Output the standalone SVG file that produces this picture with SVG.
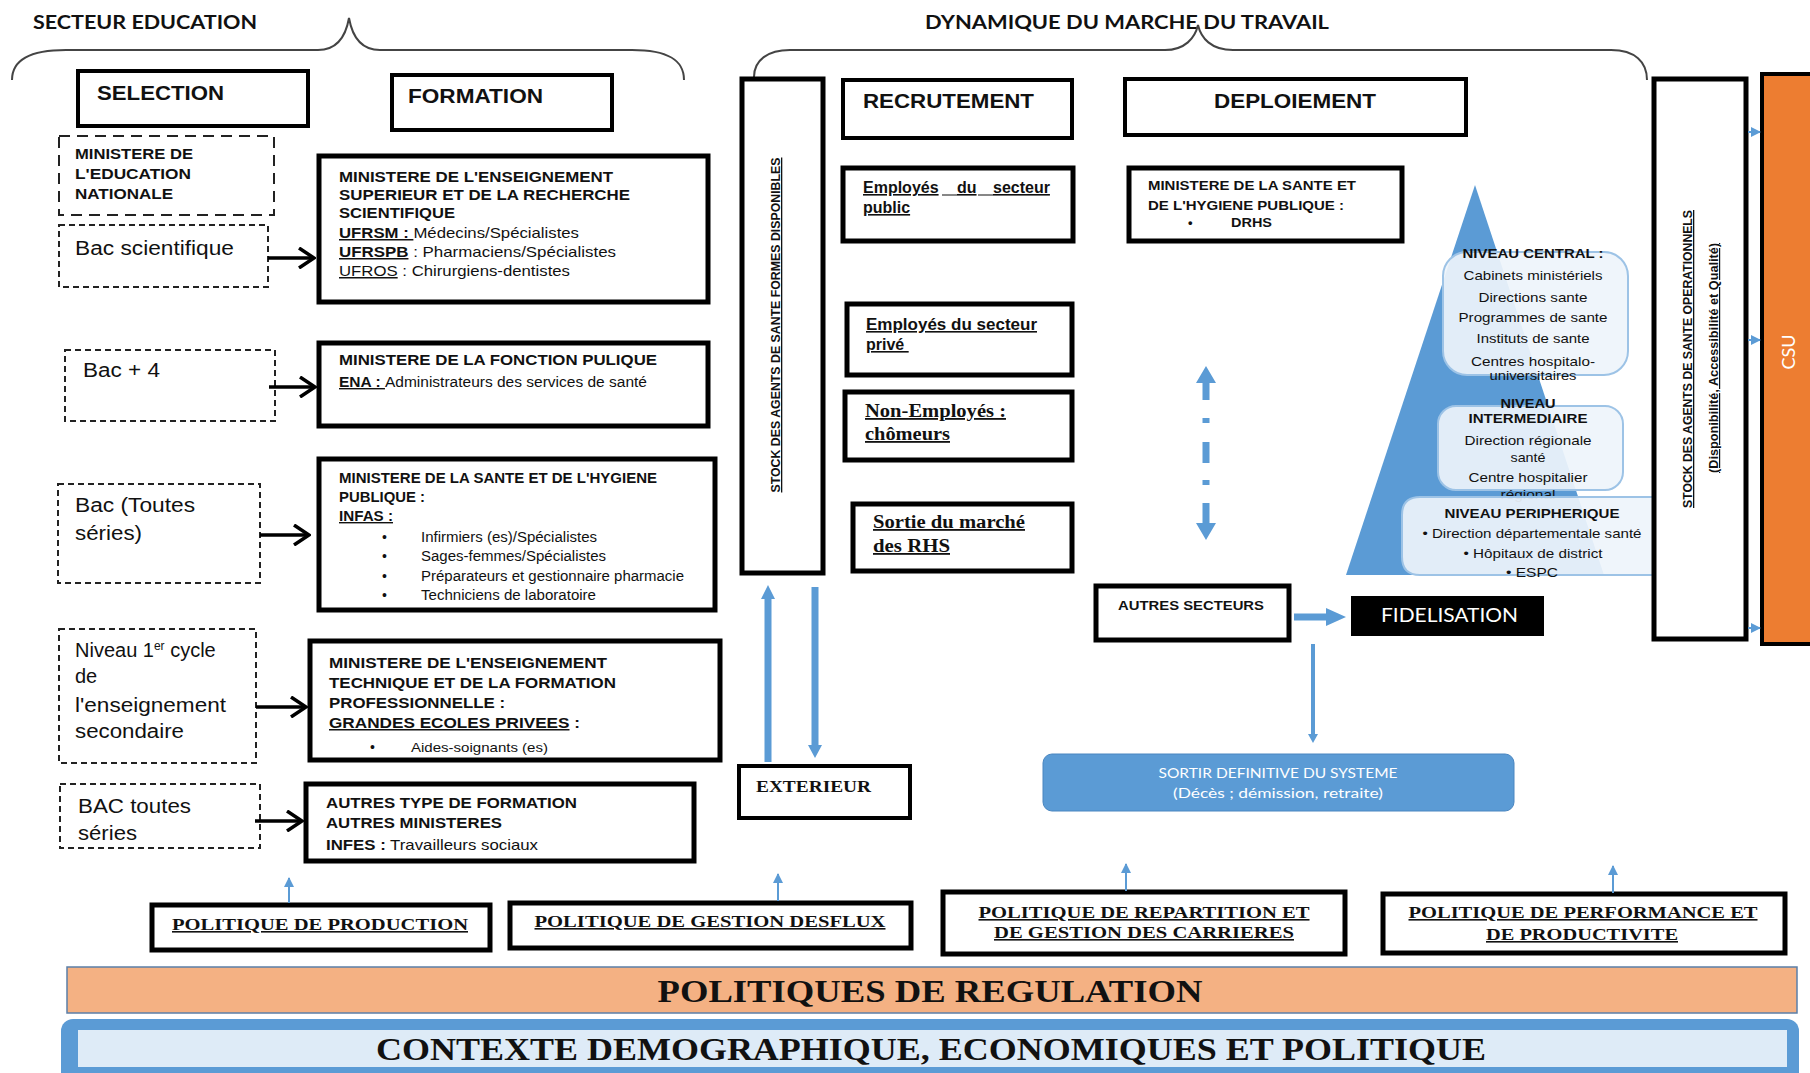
<svg xmlns="http://www.w3.org/2000/svg" width="1810" height="1073" viewBox="0 0 1810 1073">
<style>
text{font-family:"Liberation Sans",Arial,sans-serif;fill:#111}
.b{font-weight:bold}
.s{font-family:"Liberation Serif","Times New Roman",serif;font-weight:bold}
.u{text-decoration:underline}
.c{font-family:Lato,"Liberation Sans",sans-serif}
.m{text-anchor:middle}
.box{fill:#fff;stroke:#000;stroke-width:5}
.hbox{fill:#fff;stroke:#000;stroke-width:4}
.dl{fill:#fff;stroke:#222;stroke-width:2;stroke-dasharray:11 7}
.ds{fill:#fff;stroke:#222;stroke-width:2;stroke-dasharray:6 4}
.brace{fill:none;stroke:#444;stroke-width:2}
.bl{fill:#5B9BD5}
.lvl{fill:#EEF4FB;fill-opacity:0.92;stroke:#9DC3E6;stroke-width:2}
.bk{fill:none;stroke:#000;stroke-width:3.5}
.thin{stroke:#5B9BD5;stroke-width:2;fill:none}
</style>
<defs>
<marker id="chev" markerUnits="userSpaceOnUse" viewBox="0 0 20 22" refX="18" refY="11" markerWidth="20" markerHeight="22" orient="auto">
<path d="M3,1 L18,11 L3,21" fill="none" stroke="#000" stroke-width="3.5"/>
</marker>
<marker id="btri" markerUnits="userSpaceOnUse" viewBox="0 0 10 10" refX="9" refY="5" markerWidth="10" markerHeight="10" orient="auto">
<path d="M0,0 L10,5 L0,10 Z" fill="#5B9BD5"/>
</marker>
</defs>

<!-- headers -->
<g id="headers">
<text x="33" y="29" class="b c" font-size="18" textLength="224" lengthAdjust="spacingAndGlyphs">SECTEUR EDUCATION</text>
<path class="brace" d="M12,80 C12,60 30,50 66,50 L318,50 C338,50 346,35 349,18 C352,35 360,50 380,50 L632,50 C668,50 684,60 684,80"/>
<text x="925" y="29" class="b c" font-size="18" textLength="404" lengthAdjust="spacingAndGlyphs">DYNAMIQUE DU MARCHE DU TRAVAIL</text>
<path class="brace" d="M754,77 C754,60 768,50 790,50 L1165,50 C1185,50 1195,38 1198,25 C1201,38 1211,50 1233,50 L1611,50 C1635,50 1647,62 1647,80"/>
</g>

<g id="selection">
<rect class="hbox" x="78" y="71" width="230" height="55"/>
<text x="97" y="100" class="b" font-size="21" textLength="127" lengthAdjust="spacingAndGlyphs">SELECTION</text>
</g>
<g id="formation">
<rect class="hbox" x="392" y="75" width="220" height="55"/>
<text x="408" y="103" class="b" font-size="21" textLength="135" lengthAdjust="spacingAndGlyphs">FORMATION</text>
</g>

<g id="men">
<rect class="dl" x="59" y="136" width="215" height="79"/>
<text x="75" y="159" class="b" font-size="14" textLength="118" lengthAdjust="spacingAndGlyphs">MINISTERE DE</text>
<text x="75" y="179" class="b" font-size="14" textLength="116" lengthAdjust="spacingAndGlyphs">L'EDUCATION</text>
<text x="75" y="199" class="b" font-size="14" textLength="98" lengthAdjust="spacingAndGlyphs">NATIONALE</text>
</g>
<g id="bac-sci">
<rect class="ds" x="59" y="225" width="209" height="62"/>
<text x="75" y="255" font-size="20" textLength="159" lengthAdjust="spacingAndGlyphs">Bac scientifique</text>
</g>
<g id="bac4">
<rect class="ds" x="65" y="350" width="210" height="71"/>
<text x="83" y="377" font-size="20" textLength="77" lengthAdjust="spacingAndGlyphs">Bac + 4</text>
</g>
<g id="bac-toutes">
<rect class="ds" x="58" y="484" width="202" height="99"/>
<text x="75" y="512" font-size="20" textLength="120" lengthAdjust="spacingAndGlyphs">Bac (Toutes</text>
<text x="75" y="540" font-size="20" textLength="67" lengthAdjust="spacingAndGlyphs">séries)</text>
</g>
<g id="niveau">
<rect class="ds" x="59" y="629" width="197" height="134"/>
<text x="75" y="657" font-size="20">Niveau 1<tspan font-size="12" dy="-7">er</tspan><tspan dy="7"> cycle</tspan></text>
<text x="75" y="683" font-size="20">de</text>
<text x="75" y="712" font-size="20" textLength="151" lengthAdjust="spacingAndGlyphs">l'enseignement</text>
<text x="75" y="738" font-size="20" textLength="109" lengthAdjust="spacingAndGlyphs">secondaire</text>
</g>
<g id="bac-series">
<rect class="ds" x="60" y="784" width="200" height="64"/>
<text x="78" y="813" font-size="20" textLength="113" lengthAdjust="spacingAndGlyphs">BAC toutes</text>
<text x="78" y="840" font-size="20" textLength="59" lengthAdjust="spacingAndGlyphs">séries</text>
</g>

<g id="mesrs">
<rect class="box" x="319" y="156" width="389" height="146"/>
<text x="339" y="182" class="b" font-size="15" textLength="274" lengthAdjust="spacingAndGlyphs">MINISTERE DE L'ENSEIGNEMENT</text>
<text x="339" y="200" class="b" font-size="15" textLength="291" lengthAdjust="spacingAndGlyphs">SUPERIEUR ET DE LA RECHERCHE</text>
<text x="339" y="218" class="b" font-size="15" textLength="116" lengthAdjust="spacingAndGlyphs">SCIENTIFIQUE</text>
<text x="339" y="238" font-size="15" textLength="240" lengthAdjust="spacingAndGlyphs"><tspan class="b u">UFRSM : </tspan>Médecins/Spécialistes</text>
<text x="339" y="257" font-size="15" textLength="277" lengthAdjust="spacingAndGlyphs"><tspan class="b u">UFRSPB</tspan> : Pharmaciens/Spécialistes</text>
<text x="339" y="276" font-size="15" textLength="231" lengthAdjust="spacingAndGlyphs"><tspan class="u">UFROS</tspan> : Chirurgiens-dentistes</text>
</g>
<g id="fp">
<rect class="box" x="319" y="343" width="389" height="83"/>
<text x="339" y="365" class="b" font-size="15" textLength="318" lengthAdjust="spacingAndGlyphs">MINISTERE DE LA FONCTION PULIQUE</text>
<text x="339" y="387" font-size="14" textLength="308" lengthAdjust="spacingAndGlyphs"><tspan class="b u">ENA : </tspan>Administrateurs  des services de santé</text>
</g>
<g id="mshp">
<rect class="box" x="319" y="459" width="396" height="151"/>
<text x="339" y="483" class="b" font-size="14" textLength="318" lengthAdjust="spacingAndGlyphs">MINISTERE DE LA SANTE ET DE L'HYGIENE</text>
<text x="339" y="502" class="b" font-size="14" textLength="86" lengthAdjust="spacingAndGlyphs">PUBLIQUE :</text>
<text x="339" y="521" class="b u" font-size="14" textLength="54" lengthAdjust="spacingAndGlyphs">INFAS :</text>
<text x="382" y="542" font-size="14">•</text>
<text x="421" y="542" font-size="14" textLength="176" lengthAdjust="spacingAndGlyphs">Infirmiers (es)/Spécialistes</text>
<text x="382" y="561" font-size="14">•</text>
<text x="421" y="561" font-size="14" textLength="185" lengthAdjust="spacingAndGlyphs">Sages-femmes/Spécialistes</text>
<text x="382" y="581" font-size="14">•</text>
<text x="421" y="581" font-size="14" textLength="263" lengthAdjust="spacingAndGlyphs">Préparateurs et gestionnaire pharmacie</text>
<text x="382" y="600" font-size="14">•</text>
<text x="421" y="600" font-size="14" textLength="175" lengthAdjust="spacingAndGlyphs">Techniciens de laboratoire</text>
</g>
<g id="metfp">
<rect class="box" x="310" y="641" width="410" height="119"/>
<text x="329" y="668" class="b" font-size="15" textLength="278" lengthAdjust="spacingAndGlyphs">MINISTERE DE  L'ENSEIGNEMENT</text>
<text x="329" y="688" class="b" font-size="15" textLength="287" lengthAdjust="spacingAndGlyphs">TECHNIQUE ET DE LA FORMATION</text>
<text x="329" y="708" class="b" font-size="15" textLength="176" lengthAdjust="spacingAndGlyphs">PROFESSIONNELLE :</text>
<text x="329" y="728" class="b" font-size="15" textLength="251" lengthAdjust="spacingAndGlyphs"><tspan class="u">GRANDES ECOLES  PRIVEES</tspan> :</text>
<text x="370" y="752" font-size="14">•</text>
<text x="411" y="752" font-size="13" textLength="137" lengthAdjust="spacingAndGlyphs">Aides-soignants (es)</text>
</g>
<g id="autres-formation">
<rect class="box" x="306" y="784" width="388" height="77"/>
<text x="326" y="808" class="b" font-size="15" textLength="251" lengthAdjust="spacingAndGlyphs">AUTRES TYPE DE FORMATION</text>
<text x="326" y="828" class="b" font-size="15" textLength="176" lengthAdjust="spacingAndGlyphs">AUTRES MINISTERES</text>
<text x="326" y="850" font-size="15" textLength="212" lengthAdjust="spacingAndGlyphs"><tspan class="b">INFES :</tspan> Travailleurs sociaux</text>
</g>

<g id="stock-formes">
<rect class="box" x="742" y="79" width="81" height="494"/>
<text transform="translate(780,325) rotate(-90)" class="b u m" font-size="13" textLength="335" lengthAdjust="spacingAndGlyphs">STOCK DES AGENTS DE SANTE FORMES DISPONIBLES</text>
</g>

<g id="recrutement">
<rect class="hbox" x="843" y="80" width="229" height="58"/>
<text x="863" y="108" class="b" font-size="21" textLength="171" lengthAdjust="spacingAndGlyphs">RECRUTEMENT</text>
</g>
<g id="emp-public">
<rect class="box" x="843" y="168" width="230" height="73"/>
<text x="863" y="193" class="b u" font-size="16">Employés</text>
<text x="957" y="193" class="b u" font-size="16">du</text>
<text x="993" y="193" class="b u" font-size="16">secteur</text>
<path d="M942,195 H957 M978,195 H993" stroke="#111" stroke-width="1.2"/>
<text x="863" y="213" class="b u" font-size="16">public</text>
</g>
<g id="emp-prive">
<rect class="box" x="847" y="304" width="225" height="71"/>
<text x="866" y="330" class="b u" font-size="16" textLength="171" lengthAdjust="spacingAndGlyphs">Employés du secteur</text>
<text x="866" y="350" class="b u" font-size="16" xml:space="preserve">privé </text>
</g>
<g id="non-emp">
<rect class="box" x="845" y="392" width="227" height="68"/>
<text x="865" y="417" class="s u" font-size="18" textLength="141" lengthAdjust="spacingAndGlyphs">Non-Employés :</text>
<text x="865" y="440" class="s u" font-size="18" textLength="85" lengthAdjust="spacingAndGlyphs">chômeurs</text>
</g>
<g id="sortie-rhs">
<rect class="box" x="853" y="504" width="219" height="67"/>
<text x="873" y="528" class="s u" font-size="18" textLength="152" lengthAdjust="spacingAndGlyphs">Sortie du marché</text>
<text x="873" y="552" class="s u" font-size="18" textLength="77" lengthAdjust="spacingAndGlyphs">des RHS</text>
</g>
<g id="exterieur">
<rect class="hbox" x="739" y="766" width="171" height="52"/>
<text x="756" y="792" class="s" font-size="16" textLength="115" lengthAdjust="spacingAndGlyphs">EXTERIEUR</text>
</g>

<g id="deploiement">
<rect class="hbox" x="1125" y="79" width="341" height="56"/>
<text x="1214" y="108" class="b" font-size="21" textLength="162" lengthAdjust="spacingAndGlyphs">DEPLOIEMENT</text>
</g>
<g id="mshp-drhs">
<rect class="box" x="1129" y="168" width="273" height="73"/>
<text x="1148" y="190" class="b" font-size="13" textLength="208" lengthAdjust="spacingAndGlyphs">MINISTERE DE LA SANTE ET</text>
<text x="1148" y="210" class="b" font-size="13" textLength="196" lengthAdjust="spacingAndGlyphs">DE L'HYGIENE PUBLIQUE :</text>
<text x="1188" y="227" class="b" font-size="13">•</text>
<text x="1231" y="227" class="b" font-size="13" textLength="41" lengthAdjust="spacingAndGlyphs">DRHS</text>
</g>

<g id="pyramide">
<polygon class="bl" points="1475,185 1604,575 1346,575"/>
<rect class="lvl" x="1443" y="252" width="185" height="123" rx="24"/>
<text x="1533" y="258" class="b m" font-size="13" textLength="141" lengthAdjust="spacingAndGlyphs">NIVEAU CENTRAL :</text>
<text x="1533" y="280" class="m" font-size="13" textLength="139" lengthAdjust="spacingAndGlyphs">Cabinets ministériels</text>
<text x="1533" y="302" class="m" font-size="13" textLength="109" lengthAdjust="spacingAndGlyphs">Directions sante</text>
<text x="1533" y="322" class="m" font-size="13" textLength="149" lengthAdjust="spacingAndGlyphs">Programmes de sante</text>
<text x="1533" y="343" class="m" font-size="13" textLength="113" lengthAdjust="spacingAndGlyphs">Instituts de sante</text>
<text x="1533" y="366" class="m" font-size="13" textLength="124" lengthAdjust="spacingAndGlyphs">Centres hospitalo-</text>
<text x="1533" y="380" class="m" font-size="13" textLength="87" lengthAdjust="spacingAndGlyphs">universitaires</text>
<rect class="lvl" x="1438" y="406" width="185" height="84" rx="18"/>
<text x="1528" y="408" class="b m" font-size="13" textLength="55" lengthAdjust="spacingAndGlyphs">NIVEAU</text>
<text x="1528" y="423" class="b m" font-size="13" textLength="119" lengthAdjust="spacingAndGlyphs">INTERMEDIAIRE</text>
<text x="1528" y="445" class="m" font-size="13" textLength="127" lengthAdjust="spacingAndGlyphs">Direction régionale</text>
<text x="1528" y="462" class="m" font-size="13" textLength="35" lengthAdjust="spacingAndGlyphs">santé</text>
<text x="1528" y="482" class="m" font-size="13" textLength="119" lengthAdjust="spacingAndGlyphs">Centre hospitalier</text>
<text x="1528" y="499" class="m" font-size="13" textLength="55" lengthAdjust="spacingAndGlyphs">régional</text>
<path class="lvl" d="M1652,497 H1420 Q1402,497 1402,515 V557 Q1402,575 1420,575 H1652"/>
<text x="1532" y="518" class="b m" font-size="13" textLength="175" lengthAdjust="spacingAndGlyphs">NIVEAU PERIPHERIQUE</text>
<text x="1532" y="538" class="m" font-size="13" textLength="219" lengthAdjust="spacingAndGlyphs">• Direction départementale santé</text>
<text x="1533" y="558" class="m" font-size="13" textLength="139" lengthAdjust="spacingAndGlyphs">• Hôpitaux de district</text>
<text x="1532" y="577" class="m" font-size="13" textLength="52" lengthAdjust="spacingAndGlyphs">• ESPC</text>
</g>

<g id="autres-secteurs">
<rect class="box" x="1096" y="586" width="193" height="54"/>
<text x="1118" y="610" class="b" font-size="13" textLength="146" lengthAdjust="spacingAndGlyphs">AUTRES SECTEURS</text>
</g>
<g id="fidelisation">
<rect x="1351" y="596" width="193" height="40" fill="#000"/>
<text x="1381" y="622" class="c" font-size="19" fill="#fff" style="fill:#fff" textLength="137" lengthAdjust="spacingAndGlyphs">FIDELISATION</text>
</g>
<g id="sortie-definitive">
<rect x="1043" y="754" width="471" height="57" rx="9" fill="#5B9BD5" stroke="#4A86C0" stroke-width="1"/>
<text x="1278" y="778" class="c m" font-size="13" style="fill:#fff" textLength="239" lengthAdjust="spacingAndGlyphs">SORTIR DEFINITIVE DU SYSTEME</text>
<text x="1278" y="798" class="c m" font-size="13" style="fill:#fff" textLength="210" lengthAdjust="spacingAndGlyphs">(Décès ; démission, retraite)</text>
</g>

<g id="stock-operationnels">
<rect class="box" x="1654" y="79" width="92" height="560"/>
<text transform="translate(1692,359) rotate(-90)" class="b u m" font-size="13" textLength="298" lengthAdjust="spacingAndGlyphs">STOCK DES AGENTS DE SANTE OPERATIONNELS</text>
<text transform="translate(1718,358) rotate(-90)" class="b u m" font-size="12" textLength="230" lengthAdjust="spacingAndGlyphs">(Disponibilité, Accessibilité et Qualité)</text>
</g>
<g id="csu">
<rect x="1762" y="74" width="60" height="570" fill="#ED7D31" stroke="#000" stroke-width="4"/>
<text transform="translate(1795,352) rotate(-90)" class="c m" font-size="18" style="fill:#fff">CSU</text>
</g>

<g id="politiques">
<g id="pol-production">
<rect class="box" x="152" y="905" width="338" height="45"/>
<text x="320" y="930" class="s u m" font-size="16" textLength="296" lengthAdjust="spacingAndGlyphs">POLITIQUE DE PRODUCTION</text>
</g>
<g id="pol-flux">
<rect class="box" x="510" y="903" width="401" height="45"/>
<text x="710" y="927" class="s u m" font-size="16" textLength="351" lengthAdjust="spacingAndGlyphs">POLITIQUE DE GESTION DESFLUX</text>
</g>
<g id="pol-repartition">
<rect class="box" x="943" y="892" width="402" height="62"/>
<text x="1144" y="918" class="s u m" font-size="16" textLength="331" lengthAdjust="spacingAndGlyphs">POLITIQUE DE REPARTITION ET</text>
<text x="1144" y="938" class="s u m" font-size="16" textLength="300" lengthAdjust="spacingAndGlyphs">DE GESTION DES CARRIERES</text>
</g>
<g id="pol-performance">
<rect class="box" x="1383" y="894" width="402" height="59"/>
<text x="1583" y="918" class="s u m" font-size="16" textLength="349" lengthAdjust="spacingAndGlyphs">POLITIQUE DE PERFORMANCE ET</text>
<text x="1582" y="940" class="s u m" font-size="16" textLength="192" lengthAdjust="spacingAndGlyphs">DE PRODUCTIVITE</text>
</g>
</g>

<g id="regulation">
<rect x="67" y="967" width="1730" height="46" fill="#F4B183" stroke="#5B7FA8" stroke-width="1.5"/>
<text x="930" y="1002" class="s m" font-size="31" textLength="545" lengthAdjust="spacingAndGlyphs">POLITIQUES DE REGULATION</text>
</g>
<g id="contexte">
<rect x="61" y="1019" width="1738" height="66" rx="12" fill="#5B9BD5"/>
<rect x="78" y="1030" width="1709" height="37" fill="#DEEBF7"/>
<text x="931" y="1060" class="s m" font-size="31" textLength="1110" lengthAdjust="spacingAndGlyphs">CONTEXTE DEMOGRAPHIQUE, ECONOMIQUES ET POLITIQUE</text>
</g>

<g id="connectors">
<line class="bk" x1="268" y1="258" x2="314" y2="258" marker-end="url(#chev)"/>
<line class="bk" x1="269" y1="387" x2="315" y2="387" marker-end="url(#chev)"/>
<line class="bk" x1="260" y1="535" x2="309" y2="535" marker-end="url(#chev)"/>
<line class="bk" x1="256" y1="707" x2="306" y2="707" marker-end="url(#chev)"/>
<line class="bk" x1="255" y1="821" x2="302" y2="821" marker-end="url(#chev)"/>
<polygon class="bl" points="768,585 775,599 771.5,599 771.5,762 764.5,762 764.5,599 761,599"/>
<polygon class="bl" points="811.5,587 818.5,587 818.5,745 822,745 815,758 808,745 811.5,745"/>
<polygon class="bl" points="1206,366 1216,383 1209.5,383 1209.5,400 1202.5,400 1202.5,383 1196,383"/>
<rect class="bl" x="1202.5" y="418" width="7" height="5"/>
<rect class="bl" x="1202.5" y="442" width="7" height="21"/>
<rect class="bl" x="1202.5" y="480" width="7" height="5"/>
<polygon class="bl" points="1202.5,503 1209.5,503 1209.5,523 1216,523 1206,540 1196,523 1202.5,523"/>
<polygon class="bl" points="1294,613.5 1326,613.5 1326,608 1346,617 1326,626 1326,620.5 1294,620.5"/>
<polygon class="bl" points="1311,644 1315,644 1315,734 1318,734 1313,743 1308,734 1311,734"/>
<line class="thin" x1="289" y1="903" x2="289" y2="878" marker-end="url(#btri)"/>
<line class="thin" x1="778" y1="901" x2="778" y2="874" marker-end="url(#btri)"/>
<line class="thin" x1="1126" y1="891" x2="1126" y2="864" marker-end="url(#btri)"/>
<line class="thin" x1="1613" y1="893" x2="1613" y2="866" marker-end="url(#btri)"/>
<line class="thin" x1="1748" y1="132" x2="1760" y2="132" marker-end="url(#btri)"/>
<line class="thin" x1="1748" y1="340" x2="1760" y2="340" marker-end="url(#btri)"/>
<line class="thin" x1="1748" y1="628" x2="1760" y2="628" marker-end="url(#btri)"/>
</g>
</svg>
